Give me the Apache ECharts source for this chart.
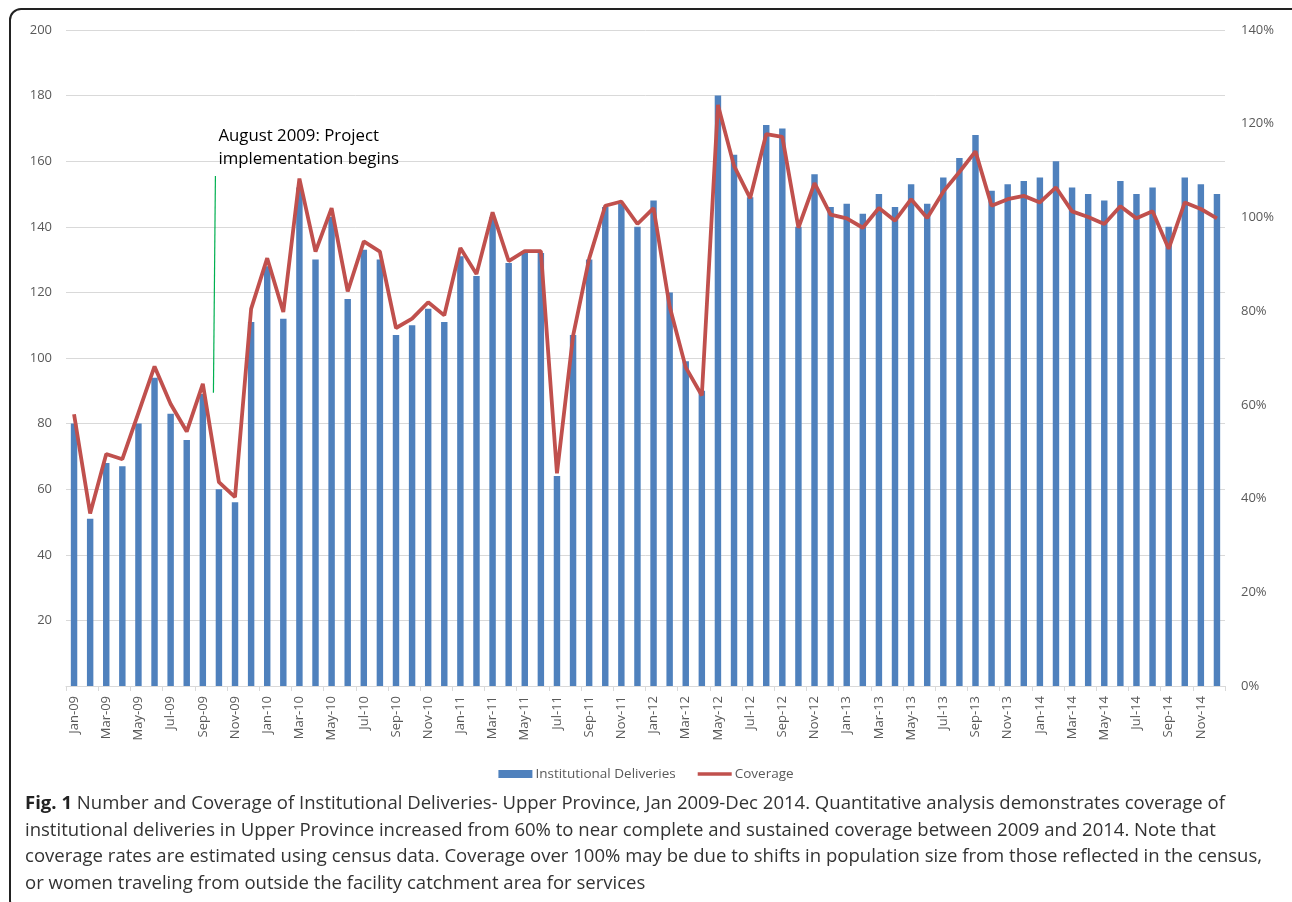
<!DOCTYPE html>
<html>
<head>
<meta charset="utf-8">
<script src="https://cdn.jsdelivr.net/npm/echarts@6/dist/echarts.min.js"></script>
<style>
html,body{margin:0;padding:0;background:#fff;}
#wrap{position:relative;width:1292px;height:902px;overflow:hidden;}
#chart{position:absolute;left:0;top:0;width:1292px;height:902px;}
#frame{position:absolute;left:9px;top:8px;width:1300px;height:905px;border:2px solid #222;border-radius:12px;box-sizing:border-box;pointer-events:none;}
#caption{position:absolute;left:25px;top:789px;font-family:"Open Sans",sans-serif;font-size:18.55px;line-height:26.6px;color:#333;white-space:nowrap;}
#caption b{color:#222;}
</style>
</head>
<body>
<div id="wrap">
<div id="chart"></div>
<div id="frame"></div>
<div id="caption"><b>Fig. 1</b> Number and Coverage of Institutional Deliveries- Upper Province, Jan 2009-Dec 2014. Quantitative analysis demonstrates coverage of<br>institutional deliveries in Upper Province increased from 60% to near complete and sustained coverage between 2009 and 2014. Note that<br>coverage rates are estimated using census data. Coverage over 100% may be due to shifts in population size from those reflected in the census,<br>or women traveling from outside the facility catchment area for services</div>
</div>
<script>
const months = [
 'Jan-09','Feb-09','Mar-09','Apr-09','May-09','Jun-09','Jul-09','Aug-09','Sep-09','Oct-09','Nov-09','Dec-09',
 'Jan-10','Feb-10','Mar-10','Apr-10','May-10','Jun-10','Jul-10','Aug-10','Sep-10','Oct-10','Nov-10','Dec-10',
 'Jan-11','Feb-11','Mar-11','Apr-11','May-11','Jun-11','Jul-11','Aug-11','Sep-11','Oct-11','Nov-11','Dec-11',
 'Jan-12','Feb-12','Mar-12','Apr-12','May-12','Jun-12','Jul-12','Aug-12','Sep-12','Oct-12','Nov-12','Dec-12',
 'Jan-13','Feb-13','Mar-13','Apr-13','May-13','Jun-13','Jul-13','Aug-13','Sep-13','Oct-13','Nov-13','Dec-13',
 'Jan-14','Feb-14','Mar-14','Apr-14','May-14','Jun-14','Jul-14','Aug-14','Sep-14','Oct-14','Nov-14','Dec-14'
];
const deliveries = [
 80,51,68,67,80,94,83,75,89,60,56,111,
 128,112,152,130,143,118,133,130,107,110,115,111,
 131,125,143,129,132,132,64,107,130,146,147,140,
 148,120,99,90,180,162,149,171,170,140,156,146,
 147,144,150,146,153,147,155,161,168,151,153,154,
 155,160,152,150,148,154,150,152,140,155,153,150
];
const coverage = [
 58,36.8,49.5,48.4,58.3,68.2,60.2,54.3,64.5,43.5,40.3,80.5,
 91.3,79.8,108.3,92.7,102,84.2,94.9,92.7,76.4,78.4,81.9,79.1,
 93.5,87.9,101.1,90.7,92.8,92.8,45.4,74.7,91.2,102.5,103.4,98.6,
 102,81,68,62,124,111,104.1,117.8,117.2,97.8,107.3,100.6,
 99.8,97.8,102,99.3,103.9,99.9,105.5,109.7,114.1,102.5,103.9,104.6,
 103.2,106.4,101.3,100.1,98.6,102.4,99.8,101.3,93.3,103.2,101.8,99.8
];
const leftTicks = [0,20,40,60,80,100,120,140,160,180,200];
const rightTicks = [0,20,40,60,80,100,120,140];
const annotationLines = ['August 2009: Project', 'implementation begins'];

const FONT = '"Open Sans", sans-serif';
const chart = echarts.init(document.getElementById('chart'), null, {renderer:'canvas'});
const option = {
  animation:false,
  backgroundColor:'#fff',
  grid:{left:66, right:67, top:30, bottom:216, containLabel:false},
  legend:{
    top:762, left:'center', itemGap:22, itemWidth:34, itemHeight:8,
    textStyle:{color:'#595959', fontSize:13.5, fontFamily:FONT, padding:[0,0,0,-2]},
    data:[
      {name:'Institutional Deliveries', icon:'rect'},
      {name:'Coverage', icon:'path://M0,0h34v3.4h-34z'}
    ]
  },
  xAxis:{
    type:'category', data:months, boundaryGap:true,
    axisLine:{lineStyle:{color:'#d9d9d9', width:1}},
    axisTick:{show:true, interval:1, length:5, lineStyle:{color:'#d9d9d9'}},
    axisLabel:{interval:1, rotate:90, margin:10, color:'#595959', fontSize:13, fontFamily:FONT}
  },
  yAxis:[
    {type:'value', min:leftTicks[0], max:leftTicks[leftTicks.length-1], interval:20,
     axisLine:{show:false}, axisTick:{show:false},
     splitLine:{lineStyle:{color:'#d9d9d9', width:1}},
     axisLabel:{margin:14, color:'#595959', fontSize:13, fontFamily:FONT,
       formatter:v=> v===0 ? '' : String(v)}},
    {type:'value', min:rightTicks[0], max:rightTicks[rightTicks.length-1], interval:20,
     axisLine:{show:false}, axisTick:{show:false}, splitLine:{show:false},
     axisLabel:{margin:16, color:'#595959', fontSize:13, fontFamily:FONT, formatter:'{value}%'}}
  ],
  series:[
    {name:'Institutional Deliveries', type:'bar', data:deliveries, yAxisIndex:0,
     barWidth:'40%', itemStyle:{color:'#4F81BD'}},
    {name:'Coverage', type:'line', data:coverage, yAxisIndex:1,
     symbol:'none', lineStyle:{color:'#C0504D', width:3.8}, itemStyle:{color:'#C0504D'}, z:5}
  ]
};
chart.setOption(option);

// annotation (project start marker) placed via the axis scales
const p8 = chart.convertToPixel({xAxisIndex:0, yAxisIndex:0}, [8, 155.5]);
const p9 = chart.convertToPixel({xAxisIndex:0, yAxisIndex:0}, [9, 89.4]);
const lx = p8[0] + 0.72*(p9[0]-p8[0]);
chart.setOption({
  graphic:[
    {type:'line', shape:{x1:lx+1, y1:p8[1], x2:lx-1, y2:p9[1]}, style:{stroke:'#00B050', lineWidth:1.2}, z:10},
    {type:'text', left:lx+4, top:p8[1]-51, style:{text:annotationLines.join('\n'), font:'16.8px "Open Sans", sans-serif', fill:'#000', lineHeight:23}, z:10}
  ]
});
</script>
</body>
</html>
